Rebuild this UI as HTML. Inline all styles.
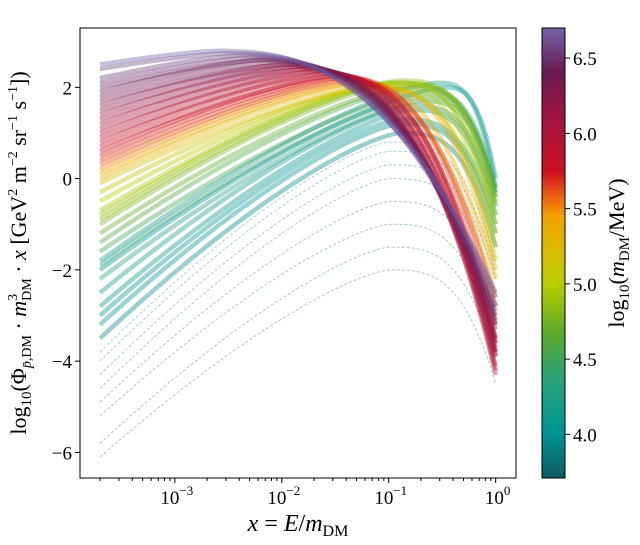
<!DOCTYPE html>
<html><head><meta charset="utf-8"><style>
body{margin:0;background:#fff;}
svg{display:block;font-family:"Liberation Serif",serif;}
</style></head><body>
<svg id="chart" width="640" height="545" viewBox="0 0 640 545">
<defs>
<linearGradient id="cmap" x1="0" y1="1" x2="0" y2="0">
<stop offset="0" stop-color="#0e5a5e"/>
<stop offset="0.1" stop-color="#009494"/>
<stop offset="0.22" stop-color="#2aa27a"/>
<stop offset="0.32" stop-color="#58aa2c"/>
<stop offset="0.43" stop-color="#b8cc00"/>
<stop offset="0.5" stop-color="#d8bc00"/>
<stop offset="0.58" stop-color="#f2a400"/>
<stop offset="0.64" stop-color="#e64c18"/>
<stop offset="0.68" stop-color="#cc1020"/>
<stop offset="0.8" stop-color="#a01440"/>
<stop offset="0.9" stop-color="#6a1a52"/>
<stop offset="1" stop-color="#7462a6"/>
</linearGradient>
<clipPath id="plotclip"><rect x="80" y="28" width="436" height="450"/></clipPath>
</defs>
<g id="curves" clip-path="url(#plotclip)"></g>
<rect x="80" y="28" width="436" height="450" fill="none" stroke="#000" stroke-width="1"/>
<g id="axes"></g>
<rect x="542" y="28" width="23" height="450" fill="url(#cmap)" stroke="#000" stroke-width="1"/>
<text transform="translate(26,253) rotate(-90)" text-anchor="middle" font-size="22">log<tspan font-size="15" dy="5">10</tspan><tspan dy="-5">(Φ</tspan><tspan font-size="14" dy="5" font-style="italic">p̄</tspan><tspan font-size="14">,DM</tspan><tspan dy="-5"> · </tspan><tspan font-style="italic">m</tspan><tspan font-size="14" dy="-9">3</tspan><tspan font-size="14" dx="-7" dy="14">DM</tspan><tspan dy="-5"> · </tspan><tspan font-style="italic">x</tspan><tspan> [GeV</tspan><tspan font-size="14" dy="-9">2</tspan><tspan dy="9"> m</tspan><tspan font-size="14" dy="-9">−2</tspan><tspan dy="9"> sr</tspan><tspan font-size="14" dy="-9">−1</tspan><tspan dy="9"> s</tspan><tspan font-size="14" dy="-9">−1</tspan><tspan dy="9">])</tspan></text>
<text x="298" y="531" text-anchor="middle" font-size="24"><tspan font-style="italic">x</tspan> = <tspan font-style="italic">E</tspan>/<tspan font-style="italic">m</tspan><tspan font-size="16" dy="5">DM</tspan></text>
<text transform="translate(624,253) rotate(-90)" text-anchor="middle" font-size="22">log<tspan font-size="15" dy="5">10</tspan><tspan dy="-5">(</tspan><tspan font-style="italic">m</tspan><tspan font-size="15" dy="5">DM</tspan><tspan dy="-5">/MeV)</tspan></text>
</svg>
<script>
// per-curve data: dark-matter mass (log10 MeV), value at x=2e-4, peak value, log10 x of peak, value at x=1
const masses = [3.72,3.72,3.75,3.75,3.8,3.8,3.85,3.9,3.95,4.0,4.0,4.05,4.1,4.2,4.2,4.3,4.4,4.5,4.6,4.7,4.8,4.85,4.9,4.95,5.0,5.1,5.2,5.3,5.4,5.5,5.6,5.65,5.7,5.75,5.8,5.85,5.9,5.95,6.0,6.05,6.1,6.15,6.2,6.25,6.3,6.35,6.4,6.45,6.5,6.55,6.6,6.7];
const startVals = [-6.1,-5.8,-5.2,-4.9,-4.6,-4.3,-4.0,-3.8,-3.5,-3.2,-2.0,-3.0,-2.8,-2.5,-1.8,-2.2,-1.9,-1.6,-1.4,-1.2,-1.0,-0.9,-0.8,-0.7,-0.5,-0.3,-0.1,0.0,0.1,0.2,0.3,0.4,0.5,0.6,0.7,0.8,0.9,1.0,1.1,1.2,1.3,1.4,1.5,1.6,1.7,1.8,1.9,2.0,2.1,2.2,2.4,2.5];
const peakVals = [-2.0,-1.5,-1.0,-0.5,0.0,0.3,0.6,0.8,1.0,1.2,2.0,1.3,1.5,1.6,2.1,1.7,1.8,1.9,2.0,2.05,2.1,2.15,2.1,2.1,2.05,2.0,2.0,2.05,2.1,2.1,2.15,2.2,2.2,2.25,2.25,2.3,2.3,2.35,2.35,2.4,2.4,2.45,2.45,2.5,2.5,2.55,2.6,2.6,2.65,2.7,2.75,2.8];
const peakPos = [-1.0,-1.0,-1.0,-1.0,-1.0,-1.0,-1.0,-1.0,-0.9,-0.9,-0.5,-0.9,-0.8,-0.8,-0.55,-0.7,-0.7,-0.7,-0.8,-0.8,-0.9,-0.9,-1.0,-1.0,-1.1,-1.2,-1.2,-1.3,-1.3,-1.4,-1.4,-1.4,-1.5,-1.5,-1.5,-1.6,-1.6,-1.7,-1.7,-1.8,-1.8,-1.9,-1.9,-2.0,-2.0,-2.1,-2.2,-2.2,-2.3,-2.4,-2.5,-2.6];
const endVals = [-4.5,-4.0,-3.5,-3.0,-2.5,-2.2,-2.0,-1.8,-1.5,-1.2,0.0,-1.0,-0.8,-0.6,-0.2,-0.4,-0.3,-0.2,-0.3,-0.4,-0.5,-0.6,-0.8,-1.0,-1.2,-1.5,-1.8,-2.0,-2.2,-2.6,-2.8,-3.2,-3.5,-3.8,-3.6,-4.2,-3.9,-4.3,-3.7,-4.1,-3.9,-3.6,-3.8,-3.5,-3.3,-3.2,-3.0,-3.1,-2.8,-2.9,-2.6,-2.5];
const yTicks = [-6,-4,-2,0,2];
const cbTicks = [4.0,4.5,5.0,5.5,6.0,6.5];
const xDecades = [-3,-2,-1,0];
const xStartLog = -3.7;

const NS = "http://www.w3.org/2000/svg";
const X0=80,X1=516,Y0=28,Y1=478;
const xLogMin=-3.887, xLogMax=0.19, yMin=-6.56, yMax=3.3;
const sx = l => X0 + (l - xLogMin)/(xLogMax - xLogMin)*(X1-X0);
const sy = v => Y1 - (v - yMin)/(yMax - yMin)*(Y1-Y0);
const cMin=3.71, cMax=6.70;
const sc = m => Y1 - (m - cMin)/(cMax-cMin)*(Y1-Y0);

const cstops=[[3.71,[14,90,94]],[4.0,[0,148,148]],[4.37,[42,162,122]],[4.67,[88,170,44]],[5.0,[184,204,0]],[5.2,[216,188,0]],[5.44,[242,164,0]],[5.62,[230,76,24]],[5.74,[204,16,32]],[6.1,[160,20,64]],[6.4,[106,26,82]],[6.7,[116,98,166]]];
function cmap(m){
  for(let i=1;i<cstops.length;i++){
    if(m<=cstops[i][0]){const a=cstops[i-1],b=cstops[i];const t=Math.max(0,(m-a[0])/(b[0]-a[0]));
      return 'rgb('+a[1].map((c,k)=>Math.round(c+(b[1][k]-c)*t)).join(',')+')';}
  }
  return 'rgb(116,98,166)';
}
function curveY(i,t){
  const y0=startVals[i], yp=peakVals[i], xp=peakPos[i], ye=endVals[i];
  if(t<=xp){const u=(xp-t)/(xp-xStartLog);return yp-(yp-y0)*Math.pow(u,1.35);}
  const q = masses[i]>=5.4 ? 2.5 : 3.2;
  const u=(t-xp)/(0-xp);return yp-(yp-ye)*Math.pow(u,q);
}
const g=document.getElementById('curves');
masses.forEach((m,i)=>{
  let d='';
  for(let k=0;k<=80;k++){const t=xStartLog+(0-xStartLog)*k/80;d+=(k?'L':'M')+sx(t).toFixed(1)+','+sy(curveY(i,t)).toFixed(1);}
  const p=document.createElementNS(NS,'path');
  p.setAttribute('d',d);p.setAttribute('fill','none');p.setAttribute('stroke',cmap(m));
  const low = startVals[i] < -3.6;
  p.setAttribute('stroke-width', low?1:4.5);p.setAttribute('stroke-opacity', low?0.35:0.4);
  p.setAttribute('stroke-dasharray', low?'3,2':'none');
  
  
  g.appendChild(p);
});
const ax=document.getElementById('axes');
function line(x1,y1,x2,y2,name){const l=document.createElementNS(NS,'line');l.setAttribute('x1',x1);l.setAttribute('y1',y1);l.setAttribute('x2',x2);l.setAttribute('y2',y2);l.setAttribute('stroke','#000');l.setAttribute('stroke-width',1);
  
  
  ax.appendChild(l);}
function text(x,y,s,anchor,name){const t=document.createElementNS(NS,'text');t.setAttribute('x',x);t.setAttribute('y',y);t.setAttribute('text-anchor',anchor);t.setAttribute('font-size','19');t.innerHTML=s;
  
  
  ax.appendChild(t);return t;}
yTicks.forEach(v=>{line(X0-5,sy(v),X0,sy(v),'y-tick');text(X0-8,sy(v)+7,v<0?'−'+(-v):String(v),'end','y-tick-label');});
xDecades.forEach(d=>{line(sx(d),Y1,sx(d),Y1+5,'x-tick');
  text(sx(d)+2,Y1+26,'10<tspan font-size="13" dy="-9">'+(d<0?'−'+(-d):d)+'</tspan>','middle','x-tick-label');});
for(let d=-4;d<=0;d++)for(let k=2;k<=9;k++){const l=d+Math.log10(k);if(l>xLogMin&&l<xLogMax)line(sx(l),Y1,sx(l),Y1+3,'x-minor-tick');}
cbTicks.forEach(v=>{line(565,sc(v),570,sc(v),'colorbar-tick');text(573,sc(v)+7,v.toFixed(1),'start','colorbar-tick-label');});
</script>
</body></html>
